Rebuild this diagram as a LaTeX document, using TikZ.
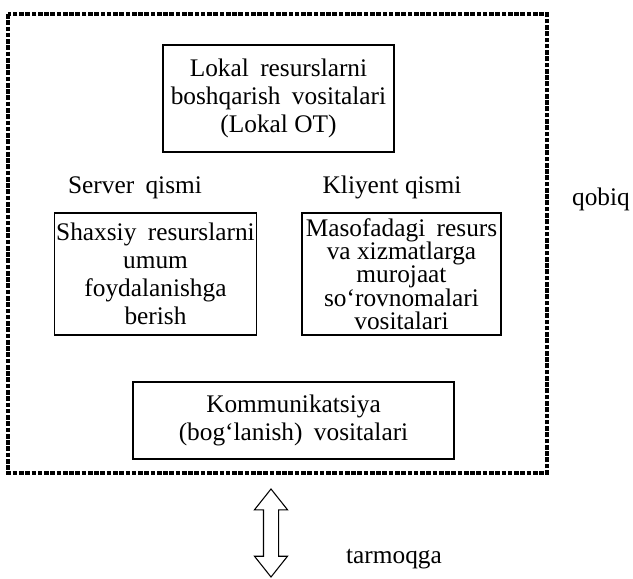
\documentclass[tikz,border=0pt]{standalone}
\usepackage{fontspec}
\setmainfont{Liberation Serif}
\usetikzlibrary{shapes.arrows}

\newcommand{\oraliq}{\hspace{0.2em}}

\tikzset{
  blok/.style={draw, line width=0.9pt, align=center, inner sep=1pt,
    font=\fontsize{19}{21}\selectfont},
  yozuv/.style={anchor=base, inner sep=0pt, font=\fontsize{19}{21}\selectfont},
  qobiqchiziq/.style={line width=2.4pt, dash pattern=on 3.5pt off 1.2pt},
}

\begin{document}
\begin{tikzpicture}[x=0.75pt,y=-0.75pt]
\useasboundingbox (0,0) rectangle (633,579);

% qobiq
\draw[qobiqchiziq] (8,14) rectangle (547,473);

\node (lokal) [blok, minimum width=173.25pt, minimum height=80.25pt] at (278.5,98.5)
  {Lokal\oraliq{} resurslarni\\ boshqarish\oraliq{} vositalari\\ (Lokal OT)};

\node (serverlbl) [yozuv] at (135,193) {Server\oraliq{} qismi};
\node (kliyentlbl) [yozuv] at (392,193) {Kliyent qismi};

\node (server) [blok, minimum width=150.75pt, minimum height=91.5pt] at (155.5,274)
  {Shaxsiy\oraliq{} resurslarni\\ umum\\ foydalanishga\\ berish};
\node (kliyent) [blok, minimum width=149.25pt, minimum height=91.5pt,
  font=\fontsize{19}{17.5}\selectfont] at (401.5,274)
  {Masofadagi\oraliq{} resurs\\ va xizmatlarga\\ murojaat\\ so‘rovnomalari\\ vositalari};

\node (komm) [blok, minimum width=240.75pt, minimum height=57.75pt] at (293.5,420.5)
  {Kommunikatsiya\\ (bog‘lanish)\oraliq{} vositalari};

\node (qobiqlbl) [yozuv] at (601,205) {qobiq};

\node (link) [draw, line width=0.8pt, double arrow, rotate=90, minimum height=66pt,
  minimum width=24pt, inner sep=5.25pt, double arrow head extend=6.75pt,
  double arrow tip angle=77] at (271,533) {};
\node (tarmoq) [yozuv] at (394,563) {tarmoqga};

\end{tikzpicture}
\end{document}
